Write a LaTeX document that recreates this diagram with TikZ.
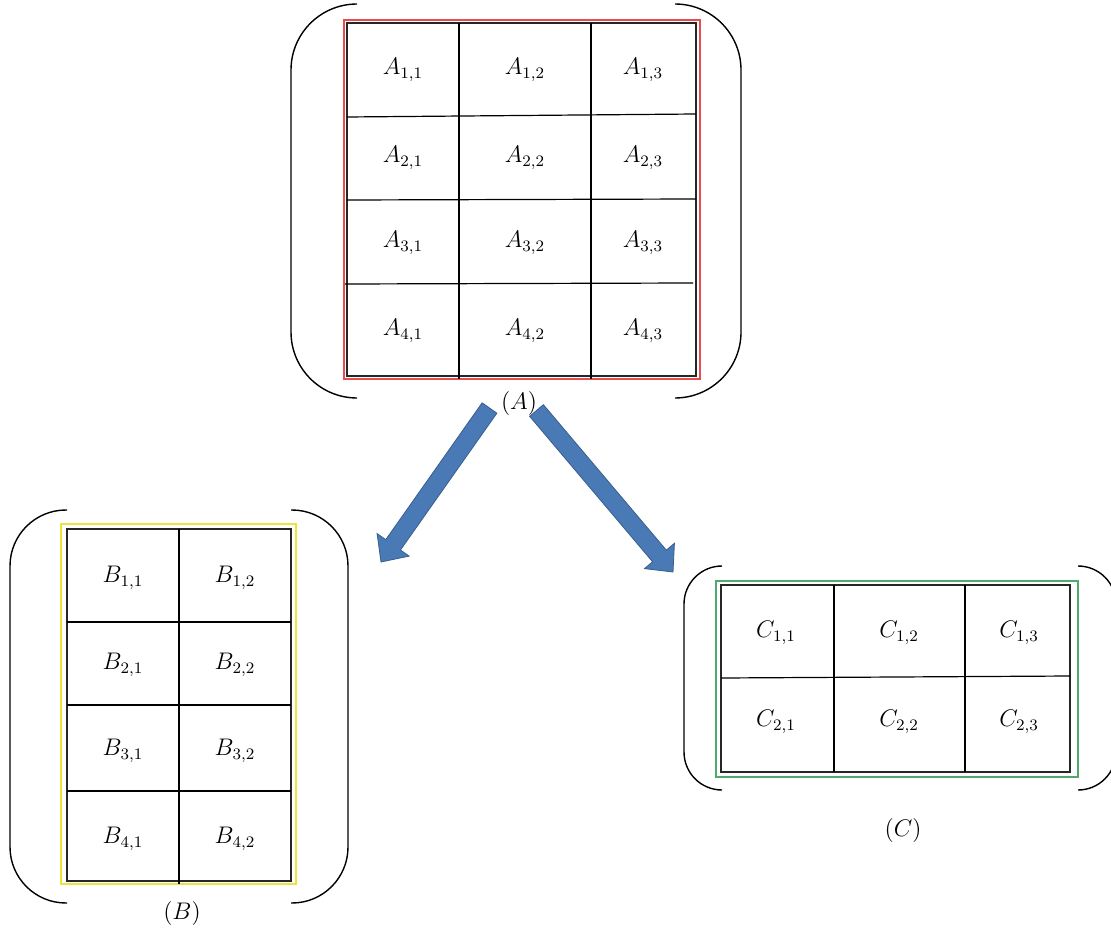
\documentclass[tikz,border=0pt]{standalone}
\usetikzlibrary{calc}
\definecolor{redframe}{RGB}{232,76,76}
\definecolor{yellowframe}{RGB}{236,228,60}
\definecolor{greenframe}{RGB}{80,168,110}
\definecolor{arrowfill}{RGB}{74,122,181}
\definecolor{arrowedge}{RGB}{56,94,142}
\tikzset{
  gridline/.style={line width=0.6pt, black},
  gridframe/.style={line width=0.9pt, black!85},
  colframe/.style={line width=0.7pt},
  paren/.style={line width=0.7pt, black},
  cellbox/.style={font=\fontsize{12}{14}\selectfont, inner sep=0pt},
  matlabel/.style={font=\fontsize{12}{14}\selectfont, inner sep=0pt},
  fat/.style={fill=arrowfill, draw=arrowedge, line width=0.4pt, line join=miter},
}
% block arrow from coordinate #1 to tip #2
\newcommand\fatarrow[2]{%
  \path ($(#2)!10.5pt!(#1)$) coordinate (hb);
  \filldraw[fat] ($(#1)!4.5pt!90:(#2)$) -- ($(hb)!4.5pt!90:(#2)$)
    -- ($(hb)!9.8pt!90:(#2)$) -- (#2) -- ($(hb)!9.8pt!-90:(#2)$)
    -- ($(hb)!4.5pt!-90:(#2)$) -- ($(#1)!4.5pt!-90:(#2)$) -- cycle;
}
\begin{document}
\begin{tikzpicture}[x=0.5pt, y=-0.5pt]
\clip (0,0) rectangle (1111,930);
\fill[white] (0,0) rectangle (1111,930);

% ---------- matrix A ----------
\draw[colframe, draw=redframe] (344,20) rectangle (700,379);
\draw[gridframe] (347,23) rectangle (696,376);
\draw[gridline] (459,23) -- (459,379);
\draw[gridline] (591,23) -- (591,379);
\draw[gridline] (347,117) -- (696,114);
\draw[gridline] (347,200) -- (696,199);
\draw[gridline] (345,284) -- (693,283);
\foreach \r/\y in {1/70,2/158,3/243,4/331}
  \foreach \c/\x in {1/403,2/525,3/643}
    \node[cellbox] (a\r\c) at (\x,\y) {$A_{\r,\c}$};
\draw[paren, rounded corners=33pt] (357,4) -| (291,398) -- (357,398);
\draw[paren, rounded corners=33pt] (675,4) -| (741,398) -- (675,398);
\node[matlabel] (labA) at (519,403) {$(A)$};

% ---------- matrix B ----------
\draw[colframe, draw=yellowframe] (61,524) rectangle (296,884);
\draw[gridframe] (67,529) rectangle (291,881);
\draw[gridline] (179,529) -- (179,884);
\draw[gridline] (67,622) -- (291,622);
\draw[gridline] (67,705) -- (291,705);
\draw[gridline] (67,791) -- (291,791);
\foreach \r/\y in {1/578,2/665,3/751,4/839}
  \foreach \c/\x in {1/123,2/235}
    \node[cellbox] (b\r\c) at (\x,\y) {$B_{\r,\c}$};
\draw[paren, rounded corners=28pt] (67,510) -| (10,903) -- (67,903);
\draw[paren, rounded corners=28pt] (291,510) -| (348,903) -- (291,903);
\node[matlabel] (labB) at (182,913) {$(B)$};

% ---------- matrix C ----------
\draw[colframe, draw=greenframe] (716,581) rectangle (1078,777);
\draw[gridframe] (721,585) rectangle (1070,772);
\draw[gridline] (834,585) -- (834,772);
\draw[gridline] (965,585) -- (965,772);
\draw[gridline] (721,678) -- (1070,676);
\foreach \r/\y in {1/633,2/722}
  \foreach \c/\x in {1/776,2/899,3/1019}
    \node[cellbox] (c\r\c) at (\x,\y) {$C_{\r,\c}$};
\draw[paren, rounded corners=19pt] (722,566) -| (684,790) -- (722,790);
\draw[paren, rounded corners=19pt] (1078,566) -| (1116,790) -- (1078,790);
\node[matlabel] (labC) at (903,830) {$(C)$};

% ---------- arrows A -> B and A -> C ----------
\coordinate (toB0) at (489.5,408);
\coordinate (toB1) at (381,562);
\coordinate (toC0) at (536.5,410.5);
\coordinate (toC1) at (673,572);
\fatarrow{toB0}{toB1}
\fatarrow{toC0}{toC1}
\end{tikzpicture}
\end{document}
